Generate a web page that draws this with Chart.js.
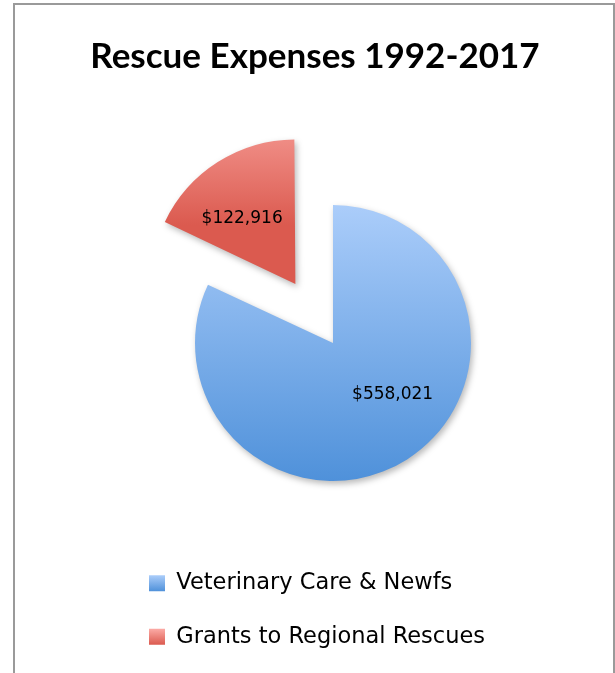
<!DOCTYPE html>
<html>
<head>
<meta charset="utf-8">
<script src="https://cdn.jsdelivr.net/npm/chart.js@4/dist/chart.umd.min.js"></script>
<style>
  html, body { margin: 0; padding: 0; background: #ffffff; overflow: hidden; }
  #wrap { position: relative; width: 615px; height: 673px; }
  #chart { position: absolute; left: 0; top: 0; }
  #frame { position: absolute; left: 13px; top: 3px; width: 602px; height: 720px;
           box-sizing: border-box; border: 2px solid #9a9a9a; pointer-events: none; }
</style>
</head>
<body>
<div id="wrap">
  <canvas id="chart" width="615" height="673"></canvas>
  <div id="frame"></div>
</div>
<script>
// ---- data ----
const titleText = 'Rescue Expenses 1992-2017';
const categories = ['Veterinary Care & Newfs', 'Grants to Regional Rescues'];
const expenses = [558021, 122916];
const valueLabels = ['$558,021', '$122,916'];

// ---- styles ----
const gradTop = ['#abcdfa', '#fcaba6'];
const gradBottom = ['#4f91da', '#db5a4f'];
const sliceOffsets = [0, 280];        // Chart.js translates by offset/4
const pieRadius = 138;
const labelRadiusFrac = [0.56, 0.62];
const labelAngleNudgeDeg = [-18, -6];

function spacerBox(pos, size) {
  return {
    position: pos, weight: 0, fullSize: false,
    options: { stack: undefined, stackWeight: 1 },
    top: 0, left: 0, right: 0, bottom: 0, width: 0, height: 0,
    isHorizontal() { return pos === 'top' || pos === 'bottom'; },
    update(maxWidth, maxHeight) {
      if (this.isHorizontal()) { this.width = maxWidth; this.height = size; }
      else { this.width = size; this.height = maxHeight; }
    },
    getPadding() { return {left: 0, right: 0, top: 0, bottom: 0}; },
    draw() {}
  };
}

const spacerPlugin = {
  id: 'spacers',
  beforeInit(chart) {
    Chart.layouts.addBox(chart, spacerBox('left', 103));
    Chart.layouts.addBox(chart, spacerBox('right', 67));
  }
};

function arcGradient(ctx, i, top, bottom) {
  const g = ctx.createLinearGradient(0, top, 0, bottom);
  g.addColorStop(0, gradTop[i]);
  g.addColorStop(1, gradBottom[i]);
  return g;
}

const decoPlugin = {
  id: 'deco',
  beforeDraw(chart) {
    const legend = chart.legend;
    if (legend && legend.legendItems && legend.legendHitBoxes) {
      legend.legendItems.forEach((item, i) => {
        const hb = legend.legendHitBoxes[i];
        if (!hb) return;
        const boxH = 16;
        const top = hb.top + (hb.height - boxH) / 2;
        item.fillStyle = arcGradient(chart.ctx, i, top, top + boxH);
        item.strokeStyle = 'rgba(0,0,0,0)';
        item.lineWidth = 0;
      });
    }
  },
  beforeDatasetsDraw(chart) {
    const c = chart.ctx;
    c.save();
    c.shadowColor = 'rgba(0,0,0,0.28)';
    c.shadowBlur = 6;
    c.shadowOffsetX = 2;
    c.shadowOffsetY = 3;
  },
  afterDatasetsDraw(chart) {
    const c = chart.ctx;
    c.restore();
    const meta = chart.getDatasetMeta(0);
    c.save();
    c.fillStyle = '#000000';
    c.font = '17px "DejaVu Sans"';
    c.textAlign = 'center';
    c.textBaseline = 'middle';
    meta.data.forEach((arc, i) => {
      const p = arc.getProps(['x', 'y', 'startAngle', 'endAngle', 'outerRadius'], true);
      const mid = (p.startAngle + p.endAngle) / 2;
      const off = (sliceOffsets[i] || 0) / 4;
      const cx = p.x + Math.cos(mid) * off;
      const cy = p.y + Math.sin(mid) * off;
      const a = mid + labelAngleNudgeDeg[i] * Math.PI / 180;
      const r = p.outerRadius * labelRadiusFrac[i];
      c.fillText(valueLabels[i], cx + Math.cos(a) * r, cy + Math.sin(a) * r + 2);
    });
    c.restore();
  }
};

function sliceColor(context) {
  const chart = context.chart;
  const i = context.dataIndex;
  const area = chart.chartArea;
  if (!area || i === undefined) return gradTop[i || 0];
  const cy = (area.top + area.bottom) / 2;
  if (i === 0) {
    return arcGradient(chart.ctx, i, cy - pieRadius, cy + pieRadius);
  }
  const total = expenses.reduce((s, v) => s + v, 0);
  let start = -Math.PI / 2;
  for (let k = 0; k < i; k++) start += expenses[k] / total * 2 * Math.PI;
  const end = start + expenses[i] / total * 2 * Math.PI;
  const mid = (start + end) / 2;
  const apexY = cy + Math.sin(mid) * sliceOffsets[i] / 4;
  return arcGradient(chart.ctx, i, apexY - pieRadius, apexY);
}

new Chart(document.getElementById('chart'), {
  type: 'pie',
  data: {
    labels: categories,
    datasets: [{
      data: expenses,
      backgroundColor: sliceColor,
      borderWidth: 0,
      offset: sliceOffsets,
      radius: pieRadius
    }]
  },
  options: {
    responsive: false,
    animation: false,
    devicePixelRatio: 1,
    layout: { padding: { left: 15, right: 0, top: 0, bottom: 15 } },
    plugins: {
      tooltip: { enabled: false },
      title: {
        display: true,
        text: titleText,
        color: '#000000',
        font: { family: 'Lato', size: 35, weight: 'bold', lineHeight: 1.2 },
        padding: { top: 36, bottom: 67 }
      },
      legend: {
        display: true,
        position: 'bottom',
        align: 'start',
        fullSize: false,
        labels: {
          color: '#000000',
          font: { family: '"DejaVu Sans"', size: 22.5 },
          boxWidth: 16,
          boxHeight: 16,
          padding: 31
        }
      }
    }
  },
  plugins: [spacerPlugin, decoPlugin]
});
</script>
</body>
</html>
